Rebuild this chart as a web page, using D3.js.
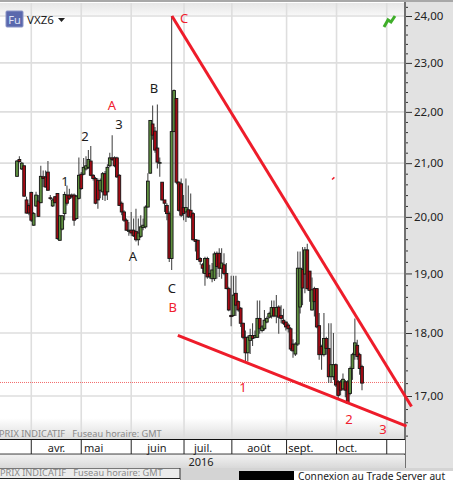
<!DOCTYPE html>
<html>
<head>
<meta charset="utf-8">
<script src="https://cdn.jsdelivr.net/npm/d3@7"></script>
<style>
html, body { margin: 0; padding: 0; background: #fff; overflow: hidden; }
svg { display: block; }
text { font-family: "Noto Sans", sans-serif; }
</style>
</head>
<body>
<svg id="chart" width="453" height="480"></svg>
<script>
var opens = [20.75,21.07,20.89,20.95,20.31,20.21,20.45,19.85,20.20,20.29,
20.26,20.74,20.74,20.83,20.35,20.20,20.37,20.43,19.58,19.78,
20.06,20.40,20.40,20.40,20.40,19.97,20.34,20.79,20.79,20.89,
20.92,21.04,20.77,20.71,20.67,20.49,20.46,20.80,20.46,20.95,
21.10,21.10,21.10,20.77,20.25,20.09,19.94,19.74,19.76,19.76,
19.74,19.59,19.65,19.81,19.82,20.18,20.81,21.76,21.62,21.29,
21.00,20.64,20.31,20.21,20.06,19.26,21.61,22.27,20.64,20.61,
20.17,20.09,20.13,20.12,20.06,19.59,19.58,19.26,19.15,19.00,
19.26,19.00,18.91,18.91,19.35,19.35,19.09,19.15,19.00,18.74,
18.29,18.29,18.66,18.52,18.41,18.16,17.93,17.68,17.88,17.96,
17.93,17.93,18.24,18.04,18.07,18.18,18.26,18.28,18.42,18.28,
18.43,18.29,18.21,18.18,18.13,18.07,17.82,17.66,17.82,18.43,
19.07,18.99,19.41,19.04,18.38,18.74,18.74,18.12,17.78,17.65,
17.91,17.75,17.30,17.30,17.49,17.22,17.22,17.11,17.22,17.22,
17.04,17.43,17.65,17.80,17.65,17.46];
var closes = [21.04,21.03,21.00,20.38,20.07,20.07,19.94,20.06,20.40,20.01,
20.75,20.71,20.55,20.49,20.34,20.31,20.26,19.61,20.02,20.02,
20.41,20.25,20.34,20.37,19.94,20.38,20.77,20.52,20.92,20.95,
21.07,20.77,20.71,20.25,20.31,20.67,20.80,20.40,20.92,21.10,
21.07,20.95,20.74,20.21,20.09,19.94,19.76,19.76,19.71,19.66,
19.59,19.71,19.82,19.85,20.18,20.66,21.83,21.54,21.25,21.02,
21.01,20.31,20.25,20.06,19.26,21.61,22.43,20.64,20.12,20.03,
20.06,20.17,20.00,20.00,19.59,19.56,19.24,19.21,19.09,19.26,
18.94,18.94,19.06,19.34,19.12,19.09,19.18,19.00,18.74,18.38,
18.27,18.63,18.46,18.38,18.16,17.93,17.68,17.93,17.96,17.91,
17.96,18.24,18.07,18.10,18.21,18.24,18.32,18.42,18.28,18.42,
18.26,18.24,18.16,18.10,18.07,17.74,17.71,17.82,19.09,19.09,
18.75,19.41,18.74,18.71,18.72,18.52,18.10,17.65,17.65,17.91,
17.75,17.30,17.49,17.49,17.17,17.01,17.09,17.26,17.09,16.89,
17.43,17.65,17.84,17.62,17.43,17.20];
var highs = [21.06,21.13,21.02,20.95,20.37,20.25,20.46,20.09,20.46,20.40,
20.95,20.86,20.86,21.04,20.40,20.34,20.38,20.44,20.03,20.03,
20.46,20.58,20.52,20.43,20.43,20.40,21.11,20.83,21.10,21.13,
21.25,21.33,20.79,20.74,20.71,20.71,20.83,20.85,20.98,21.20,
21.54,21.13,21.12,20.79,20.28,20.12,19.97,19.91,20.09,19.97,
20.15,19.97,20.03,19.97,20.21,20.81,21.83,22.13,21.70,22.15,
21.11,20.64,20.31,20.25,20.10,24.00,22.45,22.28,20.66,20.71,
20.40,20.71,20.58,20.43,20.09,19.60,19.59,19.28,19.18,19.29,
19.29,19.15,19.18,19.38,19.38,19.44,19.44,19.35,19.18,18.77,
18.96,18.96,18.96,18.54,18.43,18.17,18.04,17.96,18.07,18.16,
18.04,18.54,18.54,18.13,18.38,18.27,18.35,18.54,18.54,18.63,
18.46,18.46,18.40,18.19,18.16,18.10,17.90,17.85,19.38,19.38,
19.46,19.46,19.52,19.04,18.93,18.77,18.75,18.33,17.81,18.33,
17.94,18.16,18.16,18.00,17.51,17.25,17.25,17.35,17.25,17.25,
17.46,17.68,18.24,17.89,17.68,17.49];
var lows = [20.75,21.01,20.87,20.37,20.06,20.03,19.91,19.84,20.18,20.00,
20.25,20.55,20.54,20.48,20.31,20.18,20.25,19.59,19.57,19.76,
19.94,20.21,20.31,20.34,19.84,19.95,20.32,20.50,20.77,20.86,
20.89,20.75,20.67,20.23,20.15,20.34,20.31,20.29,20.31,20.92,
21.04,20.92,20.72,20.20,20.03,19.91,19.75,19.66,19.66,19.64,
19.56,19.49,19.62,19.76,19.79,20.17,20.80,21.45,21.20,20.90,
20.74,20.30,20.09,19.94,19.20,19.06,21.60,20.60,20.10,20.00,
19.94,19.91,19.98,19.97,19.57,19.38,19.24,19.15,19.00,18.79,
18.91,18.91,18.85,18.87,18.91,18.94,18.91,18.97,18.73,18.36,
18.11,18.27,18.28,18.35,18.10,17.90,17.54,17.54,17.66,17.79,
17.91,17.92,17.99,18.01,18.04,18.16,18.24,18.24,18.26,18.16,
17.99,18.16,18.13,18.04,18.01,17.71,17.60,17.63,17.79,18.32,
18.46,18.66,18.71,18.52,18.37,18.27,18.08,17.57,17.41,17.62,
17.65,17.20,17.20,17.25,17.14,16.96,17.01,17.09,16.98,16.88,
17.01,17.25,17.57,17.57,17.33,17.09];

var months = ['avr.', 'mai', 'juin', 'juil.', 'août', 'sept.', 'oct.'];
var monthStart = [6, 27, 48, 70.2, 90.3, 113.3, 134.3, 155.4];   // bar index, last one is nov. (no label)
var monthLabelPos = [16.6, 32.2, 58.8, 78.2, 101.7, 119.3, 139];

var majorTicks = [17, 18, 19, 20, 21, 22, 23, 24];
var minorTicks = [16.4, 16.6, 16.8, 17.2, 17.4, 17.6, 17.8, 18.2, 18.4, 18.6, 18.8, 19.2, 19.4, 19.6, 19.8,
    20.2, 20.4, 20.6, 20.8, 21.2, 21.4, 21.6, 21.8, 22.2, 22.4, 22.6, 22.8, 23.2, 23.4, 23.6, 23.8, 24.2];
var lastPrice = 17.21;

// trend lines: [bar index, price]
var trendUpper = [[65.1, 24.0], [165.8, 16.84]];
var trendLower = [[67.6, 17.96], [163.7, 16.54]];
var stray = [[132.4, 20.69], [133.4, 20.73]];

var blackLabels = [['2', 28.6, 21.52], ['3', 42.9, 21.76], ['1', 20.2, 20.66], ['B', 57.6, 22.47], ['A', 48.7, 19.29], ['C', 65.1, 18.74]];
var redLabels = [['A', 39.9, 22.14], ['C', 70.2, 23.94], ['B', 65.5, 18.42], ['1', 95, 17.14], ['2', 139.5, 16.65], ['3', 153.8, 16.49]];

var svg = d3.select('#chart');
var plotRight = 405;

var x = d3.scaleLinear().domain([0, 145]).range([17, 362]);
var y = d3.scaleLog().domain([24, 17]).range([16, 396]);

var defs = svg.append('defs');
var grad = function(id, c1, c2) {
    var g = defs.append('linearGradient').attr('id', id).attr('x1', 0).attr('x2', 0).attr('y1', 0).attr('y2', 1);
    g.append('stop').attr('offset', 0).attr('stop-color', c1);
    g.append('stop').attr('offset', 1).attr('stop-color', c2);
};
grad('topband', '#e6e6e6', '#f7f7f7');
grad('bottomfade', '#ffffff', '#dcdcdc');
grad('yearrow', '#f1f1f1', '#d9d9d9');

// backgrounds
svg.append('rect').attr('width', 453).attr('height', 480).attr('fill', '#e2e2e2');
svg.append('rect').attr('width', plotRight).attr('height', 440).attr('fill', '#fff');
svg.append('rect').attr('width', plotRight).attr('y', 3).attr('height', 12).attr('fill', 'url(#topband)');
svg.append('rect').attr('width', 453).attr('height', 2).attr('fill', '#a8a8a8');
svg.append('rect').attr('width', plotRight).attr('y', 418).attr('height', 22).attr('fill', 'url(#bottomfade)');

// grid
var grid = svg.append('g').attr('stroke', '#dedede').attr('stroke-width', 1.6);
grid.selectAll('line.h').data(majorTicks).enter().append('line').attr('class', 'h')
    .attr('x1', 0).attr('x2', plotRight)
    .attr('y1', function(d) { return y(d); }).attr('y2', function(d) { return y(d); });
grid.selectAll('line.v').data(monthStart).enter().append('line').attr('class', 'v')
    .attr('x1', function(d) { return x(d); }).attr('x2', function(d) { return x(d); })
    .attr('y1', 3).attr('y2', 439);

// last price line
svg.append('line').attr('x1', 0).attr('x2', plotRight)
    .attr('y1', y(lastPrice)).attr('y2', y(lastPrice))
    .attr('stroke', '#f26a6a').attr('stroke-width', 1).attr('stroke-dasharray', '1,1');

// candles
var bars = d3.range(opens.length);
svg.append('g').selectAll('line').data(bars).enter().append('line')
    .attr('x1', function(i) { return x(i); }).attr('x2', function(i) { return x(i); })
    .attr('y1', function(i) { return y(highs[i]); }).attr('y2', function(i) { return y(lows[i]); })
    .attr('stroke', '#4c4c4c').attr('stroke-width', 1.1);
svg.append('g').selectAll('rect').data(bars).enter().append('rect')
    .attr('x', function(i) { return x(i) - 1.4; })
    .attr('width', 2.8)
    .attr('y', function(i) { return y(Math.max(opens[i], closes[i])); })
    .attr('height', function(i) { return Math.max(0.6, y(Math.min(opens[i], closes[i])) - y(Math.max(opens[i], closes[i]))); })
    .attr('fill', function(i) { return closes[i] >= opens[i] ? '#5f9140' : '#a30a14'; })
    .attr('stroke', '#141414').attr('stroke-width', 0.9);

// right axis
svg.append('rect').attr('x', plotRight).attr('width', 48).attr('y', 2).attr('height', 468).attr('fill', '#e2e2e2');
var axisMajor = d3.axisRight(y).tickValues(majorTicks).tickSize(7).tickPadding(2)
    .tickFormat(function(d) { return d3.format('.2f')(d).replace('.', ','); });
var axisMinor = d3.axisRight(y).tickValues(minorTicks).tickSize(3).tickFormat('');
var gMinor = svg.append('g').attr('transform', 'translate(' + plotRight + ',0)').call(axisMinor);
var gMajor = svg.append('g').attr('transform', 'translate(' + plotRight + ',0)').call(axisMajor);
gMinor.select('.domain').remove();
gMajor.select('.domain').remove();
svg.selectAll('.tick line').attr('stroke', '#333');
gMajor.selectAll('text').attr('font-size', 11.5).attr('fill', '#222').style('font-family', '"Noto Sans", sans-serif');
svg.append('line').attr('x1', plotRight).attr('x2', plotRight).attr('y1', 2).attr('y2', 470)
    .attr('stroke', '#707070').attr('stroke-width', 2);

// trend lines
var line = d3.line().x(function(d) { return x(d[0]); }).y(function(d) { return y(d[1]); });
svg.selectAll('path.trend').data([trendUpper, trendLower, stray]).enter().append('path').attr('class', 'trend')
    .attr('d', line).attr('fill', 'none').attr('stroke', '#ee1c2a')
    .attr('stroke-width', function(d, i) { return i < 2 ? 3 : 1.5; });

// wave labels
var addLabels = function(rows, color) {
    svg.append('g').selectAll('text').data(rows).enter().append('text')
        .attr('x', function(d) { return x(d[1]); })
        .attr('y', function(d) { return y(d[2]); })
        .attr('dy', '0.36em').attr('text-anchor', 'middle')
        .attr('font-size', 13).attr('fill', color)
        .text(function(d) { return d[0]; });
};
addLabels(blackLabels, '#1c1c1c');
addLabels(redLabels, '#f0202e');

// symbol badge
svg.append('rect').attr('x', 6).attr('y', 11).attr('width', 17).attr('height', 16).attr('rx', 1)
    .attr('fill', '#5a68ad').attr('stroke', '#8a94c6');
svg.append('text').attr('x', 14.5).attr('y', 24).attr('text-anchor', 'middle').attr('font-size', 11)
    .attr('fill', '#dfe3f5').text('Fu');
svg.append('text').attr('x', 27).attr('y', 24).attr('font-size', 11.5).attr('fill', '#222').text('VXZ6');
svg.append('path').attr('d', 'M58,18L65,18L61.5,22Z').attr('fill', '#222');

// connection arrow
svg.append('path').attr('d', 'M384,27L388,20L391,22L395,16')
    .attr('fill', 'none').attr('stroke', '#3fae2a').attr('stroke-width', 3);

// footer caption
svg.append('text').attr('x', -1).attr('y', 436.5).attr('font-size', 9.2).attr('fill', '#8a8a8a').attr('xml:space', 'preserve')
    .text('PRIX INDICATIF   Fuseau horaire: GMT');

// time axis row
svg.append('rect').attr('y', 440).attr('width', plotRight).attr('height', 14).attr('fill', '#fff');
svg.append('line').attr('x1', 0).attr('x2', plotRight).attr('y1', 439.5).attr('y2', 439.5).attr('stroke', '#111');
svg.append('line').attr('x1', 0).attr('x2', plotRight).attr('y1', 454).attr('y2', 454).attr('stroke', '#444');
svg.selectAll('line.sep').data(monthStart).enter().append('line').attr('class', 'sep')
    .attr('x1', function(d) { return x(d); }).attr('x2', function(d) { return x(d); })
    .attr('y1', 440).attr('y2', 454).attr('stroke', '#222');
svg.append('g').selectAll('text').data(months).enter().append('text')
    .attr('x', function(d, i) { return x(monthLabelPos[i]); })
    .attr('y', 452).attr('text-anchor', 'middle').attr('font-size', 11).attr('fill', '#222')
    .text(function(d) { return d; });

// year row
svg.append('rect').attr('y', 455).attr('width', plotRight).attr('height', 13).attr('fill', 'url(#yearrow)');
svg.append('text').attr('x', 201).attr('y', 466).attr('text-anchor', 'middle').attr('font-size', 11).attr('fill', '#222').text('2016');

// window behind, status bar
svg.append('rect').attr('y', 468).attr('width', 453).attr('height', 12).attr('fill', '#d4d4d4');
svg.append('rect').attr('y', 468).attr('width', 180).attr('height', 12).attr('fill', '#ececec');
svg.append('line').attr('x1', 0).attr('x2', 180).attr('y1', 468.5).attr('y2', 468.5).attr('stroke', '#777');
svg.append('line').attr('x1', 180).attr('x2', 180).attr('y1', 468).attr('y2', 480).attr('stroke', '#333');
svg.append('text').attr('x', 0).attr('y', 476).attr('font-size', 9.2).attr('fill', '#8a8a8a').attr('xml:space', 'preserve')
    .text('PRIX INDICATIF   Fuseau horaire: GMT');
svg.append('rect').attr('y', 478).attr('width', 180).attr('height', 2).attr('fill', '#fff');
svg.append('line').attr('x1', 0).attr('x2', 180).attr('y1', 478.5).attr('y2', 478.5).attr('stroke', '#222');
svg.append('rect').attr('x', 239).attr('y', 471).attr('width', 55).attr('height', 9).attr('fill', '#000');
svg.append('rect').attr('x', 294).attr('y', 471).attr('width', 159).attr('height', 9).attr('fill', '#fff');
svg.append('text').attr('x', 298).attr('y', 479.5).attr('font-size', 10.2).attr('fill', '#222').text('Connexion au Trade Server aut');
</script>
</body>
</html>
